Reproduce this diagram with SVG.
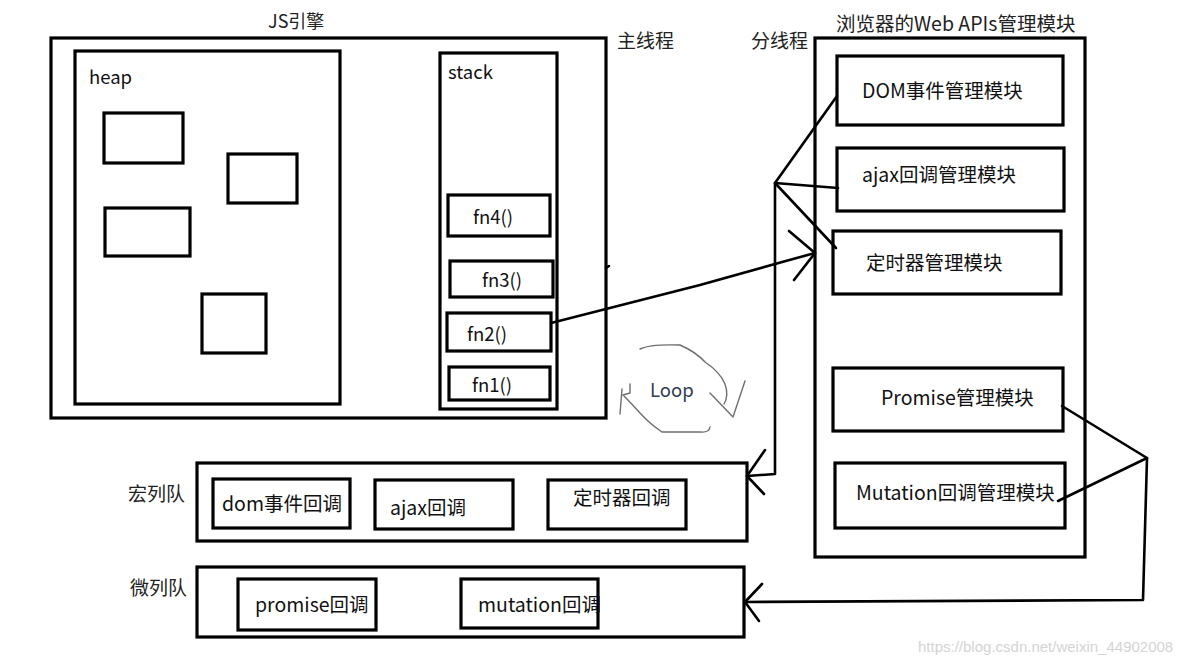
<svg xmlns="http://www.w3.org/2000/svg" width="1195" height="664" viewBox="0 0 1195 664">
<style>
.box{fill:none;stroke:#000;stroke-width:3.2}
.t{font-family:"Noto Sans CJK SC","Noto Sans",sans-serif;font-size:19.5px;fill:#111}
.f{font-family:"Noto Sans CJK SC","Noto Sans",sans-serif;font-size:18.5px;fill:#111}
.lbl{font-family:"Noto Sans CJK SC","Noto Sans",sans-serif;font-size:19px;fill:#222}
.ln{fill:none;stroke:#000;stroke-width:2.6;stroke-linecap:round;stroke-linejoin:round}
.hand{fill:none;stroke:#6e6e6e;stroke-width:1.4;stroke-linecap:round;stroke-linejoin:round}
</style>
<rect width="1195" height="664" fill="#fff"/>

<g id="main-thread">
  <rect class="box" x="51" y="38" width="555" height="380"/>
  <text class="lbl" x="268" y="28" style="font-size:18px">JS引擎</text>
  <text class="lbl" x="617" y="48">主线程</text>
  <line class="ln" x1="606" y1="268" x2="609" y2="266"/>
</g>

<g id="heap">
  <rect class="box" x="75" y="51" width="265" height="353"/>
  <text class="f" x="89" y="84">heap</text>
  <rect class="box" x="104" y="113" width="79" height="50"/>
  <rect class="box" x="228" y="154" width="69" height="49"/>
  <rect class="box" x="105" y="208" width="85" height="48"/>
  <rect class="box" x="202" y="294" width="64" height="59"/>
</g>

<g id="stack">
  <rect class="box" x="440" y="53" width="117" height="356"/>
  <text class="f" x="448" y="79">stack</text>
</g>
<g id="fn4"><rect class="box" x="448" y="195" width="102" height="41"/><text class="f" x="473" y="224">fn4()</text></g>
<g id="fn3"><rect class="box" x="450" y="261" width="103" height="36"/><text class="f" x="482" y="287">fn3()</text></g>
<g id="fn2"><rect class="box" x="447" y="313" width="104" height="38"/><text class="f" x="467" y="341">fn2()</text></g>
<g id="fn1"><rect class="box" x="449" y="367" width="101" height="33"/><text class="f" x="472" y="392">fn1()</text></g>

<g id="web-apis">
  <rect class="box" x="815" y="38" width="270" height="519"/>
  <text class="lbl" x="836" y="31" style="font-size:19.5px">浏览器的Web APIs管理模块</text>
  <text class="lbl" x="751" y="48">分线程</text>
</g>
<g id="dom-module"><rect class="box" x="837" y="56" width="226" height="69"/><text class="t" x="862" y="98">DOM事件管理模块</text></g>
<g id="ajax-module"><rect class="box" x="837" y="148" width="227" height="63"/><text class="t" x="862" y="182">ajax回调管理模块</text></g>
<g id="timer-module"><rect class="box" x="833" y="231" width="228" height="63"/><text class="t" x="866" y="270">定时器管理模块</text></g>
<g id="promise-module"><rect class="box" x="833" y="368" width="230" height="63"/><text class="t" x="881" y="405">Promise管理模块</text></g>
<g id="mutation-module"><rect class="box" x="835" y="463" width="230" height="65"/><text class="t" x="856" y="500">Mutation回调管理模块</text></g>

<g id="macro-queue">
  <rect class="box" x="197" y="463" width="550" height="78"/>
  <text class="lbl" x="128" y="501">宏列队</text>
</g>
<g id="dom-cb"><rect class="box" x="213" y="479" width="137" height="49"/><text class="t" x="222" y="511">dom事件回调</text></g>
<g id="ajax-cb"><rect class="box" x="375" y="480" width="138" height="49"/><text class="t" x="390" y="515">ajax回调</text></g>
<g id="timer-cb"><rect class="box" x="548" y="480" width="138" height="49"/><text class="t" x="573" y="505">定时器回调</text></g>

<g id="micro-queue">
  <rect class="box" x="197" y="567" width="547" height="70"/>
  <text class="lbl" x="130" y="595">微列队</text>
</g>
<g id="promise-cb"><rect class="box" x="238" y="579" width="138" height="51"/><text class="t" x="255" y="612">promise回调</text></g>
<g id="mutation-cb"><rect class="box" x="461" y="579" width="137" height="49"/><text class="t" x="478" y="612">mutation回调</text></g>

<g id="loop">
  <text x="650" y="397" font-family="'Noto Sans CJK SC','Noto Sans',sans-serif" font-size="18.5" fill="#2e3d4f">Loop</text>
  <path class="hand" d="M640 349 Q650 344 680 345 Q696 352 705 362 Q720 372 725 384 Q729 396 724 404"/>
  <path class="hand" d="M710 393 L733 417 L745 381"/>
  <path class="hand" d="M710 427 Q709 433 700 432 L662 432 Q650 424 640 413 Q630 402 624 396"/>
  <path class="hand" d="M622 389 L620 414 M630 384 L630 393 L623 395"/>
</g>

<g id="connectors">
  <path class="ln" d="M551 323 L700 285 Q760 268 815 253"/>
  <path class="ln" d="M789 231 L815 253 L794 280"/>
  <path class="ln" d="M837 96 L775 183 L838 188"/>
  <path class="ln" d="M775 183 L836 248"/>
  <path class="ln" d="M775 183 L775 474 L747 476"/>
  <path class="ln" d="M765 450 L747 476 L764 494"/>
  <path class="ln" d="M1062 406 L1147 458 L1058 501"/>
  <path class="ln" d="M1147 458 L1143 600 L745 602"/>
  <path class="ln" d="M762 584 L745 602 L759 621"/>
</g>

<text x="918" y="652" font-family="'Liberation Sans',Arial,sans-serif" font-size="15" fill="#d4d4d4">https://blog.csdn.net/weixin_44902008</text>
</svg>
